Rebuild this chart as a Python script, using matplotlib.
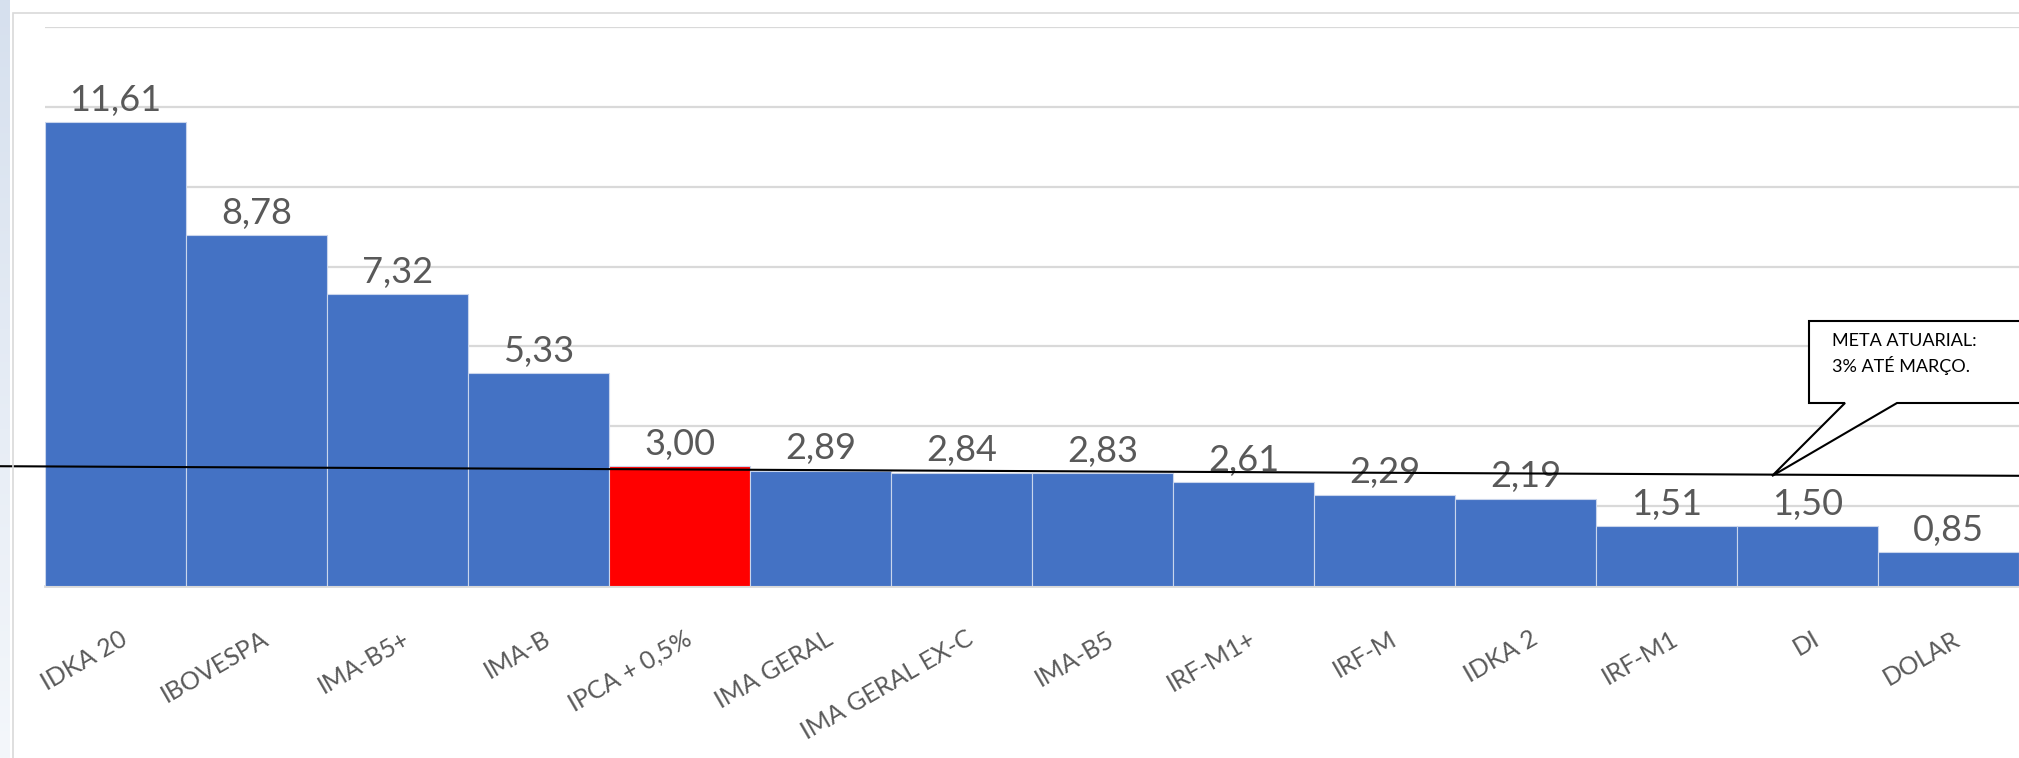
import numpy as np
import matplotlib
matplotlib.use("Agg")
import matplotlib.pyplot as plt
from matplotlib.patches import Rectangle, Polygon
from matplotlib.transforms import blended_transform_factory, offset_copy

plt.rcParams['font.family'] = ['Lato', 'DejaVu Sans']

# Data
indices = ["IDKA 20", "IBOVESPA", "IMA-B5+", "IMA-B", "IPCA + 0,5%", "IMA GERAL",
           "IMA GERAL EX-C", "IMA-B5", "IRF-M1+", "IRF-M", "IDKA 2", "IRF-M1", "DI", "DOLAR"]
returns = [11.61, 8.78, 7.32, 5.33, 3.00, 2.89, 2.84, 2.83, 2.61, 2.29, 2.19, 1.51, 1.50, 0.85]
highlight = "IPCA + 0,5%"
meta_start = 3.00   # meta atuarial line (drawn slightly tilted, as in the slide)
meta_end = 2.76
callout_text = "META ATUARIAL:\n3% ATÉ MARÇO."

W, H = 2019, 758
fig = plt.figure(figsize=(W / 100, H / 100), dpi=100)

# slide background strip on the left
bg = fig.add_axes([0, 0, 10 / W, 1])
grad = np.linspace(0, 1, 256).reshape(-1, 1)
bg.imshow(grad, aspect='auto', cmap=matplotlib.colors.LinearSegmentedColormap.from_list(
    'bgstrip', ['#d6e0ee', '#f4f7fb']), extent=[0, 1, 0, 1])
bg.axis('off')

# chart border
fig.patches.append(Rectangle((13 / W, -0.1), 1.2, 1 - 13 / H + 0.1, transform=fig.transFigure,
                             fill=False, edgecolor='#d9d9d9', linewidth=1.2))

ax = fig.add_axes([45 / W, 172 / H, 1 - 45 / W, 559 / H])
x = np.arange(len(indices))
colors = ['#ff0000' if n == highlight else '#4472c4' for n in indices]
ax.bar(x, returns, width=1.0, color=colors, edgecolor='#c9d5ec', linewidth=0.8, zorder=3)

ax.set_xlim(-0.5, len(indices) - 0.5)
ax.set_ylim(0, 14)
ax.set_yticks(np.arange(0, 15, 2))
ax.yaxis.grid(True, color='#d9d9d9', linewidth=1.6, zorder=0)
ax.tick_params(axis='y', left=False, labelleft=False)
ax.tick_params(axis='x', bottom=False, pad=0)
for s in ['top', 'right', 'left']:
    ax.spines[s].set_visible(False)
ax.spines['bottom'].set_color('#d9d9d9')
ax.spines['bottom'].set_linewidth(2)

ax.set_xticks(x)
ax.set_xticklabels(indices, rotation=30, ha='right', va='top', rotation_mode='anchor',
                   fontsize=18, color='#595959')
for lbl in ax.get_xticklabels():
    lbl.set_transform(offset_copy(lbl.get_transform(), fig=fig, x=3, y=-26, units='points'))

for xi, v in zip(x, returns):
    ax.annotate(f"{v:.2f}".replace('.', ','), (xi, v), xytext=(0, 8), textcoords='offset points',
                ha='center', va='baseline', fontsize=26, color='#595959', zorder=4)

# meta atuarial line across the whole slide
tr = blended_transform_factory(fig.transFigure, ax.transData)
ax.plot([0, 1], [meta_start, meta_end], color='black', linewidth=1.5, transform=tr,
        clip_on=False, zorder=5)

# callout box
def px(xp, yp):
    return (xp / W, 1 - yp / H)

pts = [px(1809, 321), px(2030, 321), px(2030, 403), px(1897, 403), px(1772, 476),
       px(1845, 403), px(1809, 403)]
fig.patches.append(Polygon(pts, closed=True, transform=fig.transFigure, facecolor='white',
                           edgecolor='black', linewidth=1.5, zorder=6))
fig.text(1832 / W, 1 - 333 / H, callout_text, ha='left', va='top', fontsize=13,
         color='black', linespacing=1.45, zorder=7)

fig.savefig("out.png", dpi=100)
